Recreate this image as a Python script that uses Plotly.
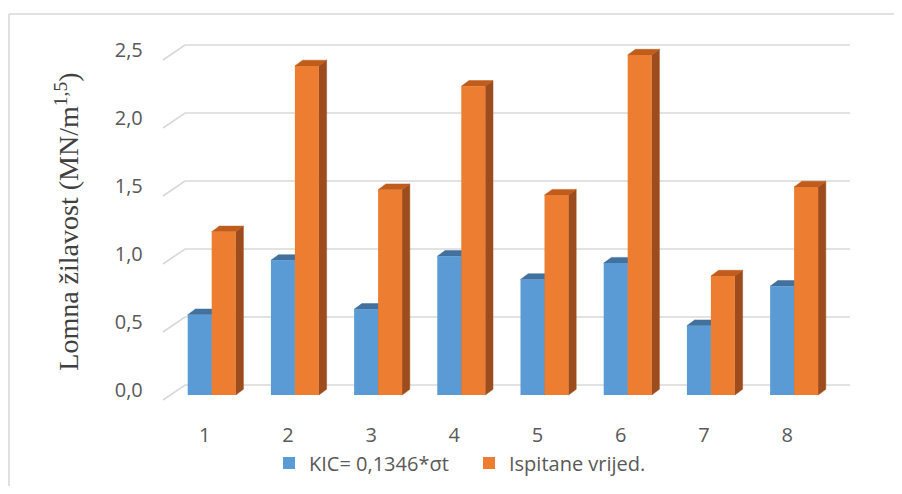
import plotly.graph_objects as go

# ---------------- data ----------------
categories = [1, 2, 3, 4, 5, 6, 7, 8]
kic_values = [0.59, 0.99, 0.63, 1.02, 0.85, 0.97, 0.51, 0.80]
tested_values = [1.20, 2.42, 1.51, 2.27, 1.47, 2.50, 0.875, 1.53]
y_ticks = [0.0, 0.5, 1.0, 1.5, 2.0, 2.5]
y_tick_labels = ["0,0", "0,5", "1,0", "1,5", "2,0", "2,5"]
x_tick_labels = ["1", "2", "3", "4", "5", "6", "7", "8"]
series_names = ["KIC= 0,1346*σt", "Ispitane vrijed."]
y_title = "Lomna žilavost (MN/m<sup>1,5</sup>)"

# ---------------- geometry / style ----------------
OFF = 8                      # page body margin in the browser
W, H = 902 - OFF, 494 - 2 * OFF
PX_CAT = 83.2                # pixels per category step
X1_PX = 211.7 - OFF          # pixel x of category 1 (front plane)
PX_VAL = 136.0               # pixels per value unit
Y0_PX = 395.0 - OFF          # pixel y of value 0 (front plane)
x_range = [0.4, 8.7]
y_range = [-0.1, 2.65]

def px_to_x(px):
    return (px - OFF - X1_PX) / PX_CAT + 1

x_dom = [(X1_PX + (x_range[0] - 1) * PX_CAT) / W,
         (X1_PX + (x_range[1] - 1) * PX_CAT) / W]
y_dom = [(H - (Y0_PX - y_range[0] * PX_VAL)) / H,
         (H - (Y0_PX - y_range[1] * PX_VAL)) / H]

bar_w = 24 / PX_CAT
depth_dx = 7.7 / PX_CAT
depth_dy = 5.7 / PX_VAL
floor_x = px_to_x(163)
floor_dy = -5 / PX_VAL
wall_x0 = px_to_x(185)
wall_x1 = px_to_x(850)
wall_dy = 10 / PX_VAL

BLUE = "#5b9bd5"
BLUE_TOP = "#41719c"
BLUE_SIDE = "#335a7d"
ORANGE = "#ed7d31"
ORANGE_TOP = "#c05d1c"
ORANGE_SIDE = "#9c4c1d"
GRID = "#d9d9d9"
TICK_FONT = dict(family="Open Sans", size=20, color="#595959")

# ---------------- back wall grid ----------------
gx, gy = [], []
for t in y_ticks:
    gx += [floor_x, wall_x0, wall_x1, None]
    gy += [t + floor_dy, t + wall_dy, t + wall_dy, None]

def tops(xs, vals, off):
    px, py = [], []
    for c, v in zip(xs, vals):
        x0 = c + off
        x1 = x0 + bar_w
        px += [x0, x0 + depth_dx, x1 + depth_dx, x1, x0, None]
        py += [v, v + depth_dy, v + depth_dy, v, v, None]
    return px, py

def sides(xs, vals, off):
    px, py = [], []
    for c, v in zip(xs, vals):
        x1 = c + off + bar_w
        px += [x1, x1, x1 + depth_dx, x1 + depth_dx, x1, None]
        py += [0, v, v + depth_dy, depth_dy, 0, None]
    return px, py

fig = go.Figure()
fig.add_trace(go.Scatter(x=gx, y=gy, mode="lines", line=dict(color=GRID, width=1.6),
                         hoverinfo="skip", showlegend=False))

for vals, off, top_c, side_c in [(kic_values, -bar_w, BLUE_TOP, BLUE_SIDE),
                                 (tested_values, 0.0, ORANGE_TOP, ORANGE_SIDE)]:
    sx, sy = sides(categories, vals, off)
    fig.add_trace(go.Scatter(x=sx, y=sy, mode="lines", fill="toself", fillcolor=side_c,
                             line=dict(color=side_c, width=0.5), hoverinfo="skip",
                             showlegend=False))
    tx, ty = tops(categories, vals, off)
    fig.add_trace(go.Scatter(x=tx, y=ty, mode="lines", fill="toself", fillcolor=top_c,
                             line=dict(color=top_c, width=0.5), hoverinfo="skip",
                             showlegend=False))

# front faces
fig.add_trace(go.Bar(x=categories, y=kic_values, width=bar_w, offset=-bar_w,
                     name=series_names[0], marker=dict(color=BLUE, line=dict(width=0)),
                     xaxis="x2", yaxis="y2"))
fig.add_trace(go.Bar(x=categories, y=tested_values, width=bar_w, offset=0,
                     name=series_names[1], marker=dict(color=ORANGE, line=dict(width=0)),
                     xaxis="x2", yaxis="y2"))

border_top = (H - 14 + OFF) / H
border_left = 1 / W

fig.update_layout(
    template="none",
    width=W, height=H,
    margin=dict(l=0, r=0, t=0, b=0),
    paper_bgcolor="white", plot_bgcolor="rgba(0,0,0,0)",
    barmode="overlay",
    xaxis=dict(domain=x_dom, range=x_range, tickmode="array", tickvals=categories,
               ticktext=x_tick_labels, showgrid=False, zeroline=False, showline=False,
               ticks="", ticklabelshift=-7, ticklabelstandoff=12, tickfont=TICK_FONT,
               automargin=False, fixedrange=True),
    yaxis=dict(domain=y_dom, range=y_range, tickmode="array", tickvals=y_ticks,
               ticktext=y_tick_labels, showgrid=False, zeroline=False, showline=False,
               ticks="", ticklabelshift=-5, ticklabelstandoff=18, tickfont=TICK_FONT,
               automargin=False, fixedrange=True,
               title=dict(text=y_title, standoff=27,
                          font=dict(family="Liberation Serif", size=28, color="#404040"))),
    xaxis2=dict(overlaying="x", matches="x", anchor="y2", visible=False, range=x_range),
    yaxis2=dict(overlaying="y", matches="y", anchor="x2", visible=False, range=y_range),
    legend=dict(orientation="h", x=(294 - 25 - OFF) / W, xanchor="left",
                y=(H - 463 + OFF) / H, yanchor="middle", font=TICK_FONT,
                entrywidth=155, bgcolor="rgba(0,0,0,0)"),
    shapes=[
        dict(type="line", xref="paper", yref="paper", x0=border_left, x1=1,
             y0=border_top, y1=border_top, line=dict(color=GRID, width=1.6), layer="below"),
        dict(type="line", xref="paper", yref="paper", x0=border_left, x1=border_left,
             y0=0, y1=border_top, line=dict(color=GRID, width=1.6), layer="below"),
    ],
)

fig.write_html("out.html")
